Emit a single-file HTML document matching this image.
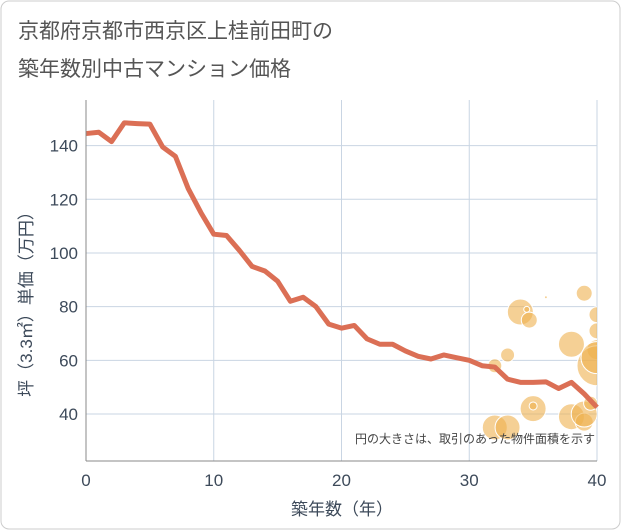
<!DOCTYPE html>
<html><head><meta charset="utf-8"><style>
body{margin:0;background:#fff;font-family:"Liberation Sans","Noto Sans CJK JP",sans-serif}
svg{display:block}
</style></head><body>
<svg id="c" width="621" height="530" xmlns="http://www.w3.org/2000/svg">
<defs><clipPath id="pc"><rect x="86" y="100" width="511" height="361"/></clipPath></defs>
<rect x="1" y="1" width="619" height="528" rx="8" fill="#fff" stroke="#ccc"/>
<text x="18" y="38" font-size="21" fill="#555">京都府京都市西京区上桂前田町の</text>
<text x="18" y="76" font-size="21" fill="#555">築年数別中古マンション価格</text>
<g id="grid"></g>
<g id="bubbles" clip-path="url(#pc)"></g>
<g id="line"></g>
<g id="axes"></g>
<text x="595" y="443" font-size="12" fill="#444" text-anchor="end">円の大きさは、取引のあった物件面積を示す</text>
<text x="342" y="515" font-size="17" fill="#3d4a5a" text-anchor="middle">築年数（年）</text>
<text transform="translate(32,300) rotate(-90)" font-size="17" fill="#3d4a5a" text-anchor="middle">坪（3.3㎡）単価（万円）</text>
</svg>
<script>
const years=[0,1,2,3,4,5,6,7,8,9,10,11,12,13,14,15,16,17,18,19,20,21,22,23,24,25,26,27,28,29,30,31,32,33,34,35,36,37,38,39,40];
const prices=[144.5,145,141.5,148.5,148.2,148,139.5,136,124,115,107,106.5,101,95,93.3,89.5,82,83.5,80,73.5,72,73,68,66,66,63.5,61.5,60.5,62,61,60,58,57.5,53,51.8,51.8,52,49.5,51.8,47.5,42.5];
const bubbleX=[32,33,32,33,34,34.5,34.7,35,35,36,38,38,39,39,39,39.5,40,40,40,40,40];
const bubbleY=[35,35,58,62,78,79,75,42,43,83.5,66,39,85,37,40,44,77,71,64,58,61];
const bubbleR=[12.5,12.5,7,7,13,3,8,13,4,1.5,13,13,8,9,13,7,8,8,10,20,16];
const xTicks=[0,10,20,30,40];
const yTicks=[40,60,80,100,120,140];
const NS="http://www.w3.org/2000/svg";
const X0=86,X1=597,Y0=461,Y1=100,XMIN=0,XMAX=40,YMIN=22.5,YMAX=157;
const sx=v=>X0+(v-XMIN)/(XMAX-XMIN)*(X1-X0);
const sy=v=>Y0-(v-YMIN)/(YMAX-YMIN)*(Y0-Y1);
function mk(t,a,p){const e=document.createElementNS(NS,t);for(const k in a)e.setAttribute(k,a[k]);p.appendChild(e);return e;}
const grid=document.getElementById('grid'),axes=document.getElementById('axes');
xTicks.forEach(t=>{
  const l=mk('line',{x1:sx(t),x2:sx(t),y1:Y1,y2:Y0,stroke:'#c9d5e3','stroke-width':1},grid);
  
  
  const tx=mk('text',{x:sx(t),y:Y0+25,'font-size':17,fill:'#3d4a5a','text-anchor':'middle'},axes);
  tx.textContent=t;
  
  
});
yTicks.forEach(t=>{
  const l=mk('line',{x1:X0,x2:X1,y1:sy(t),y2:sy(t),stroke:'#c9d5e3','stroke-width':1},grid);
  
  
  const tx=mk('text',{x:X0-8,y:sy(t)+6,'font-size':17,fill:'#3d4a5a','text-anchor':'end'},axes);
  tx.textContent=t;
  
  
});
const ax=mk('line',{x1:X0,x2:X0,y1:Y1,y2:Y0,stroke:'#888','stroke-width':1},axes);


const bx=mk('line',{x1:X0,x2:X1,y1:Y0,y2:Y0,stroke:'#888','stroke-width':1},axes);


const bg=document.getElementById('bubbles');
bubbleX.forEach((x,i)=>{
  const c=mk('circle',{cx:sx(x),cy:sy(bubbleY[i]),r:bubbleR[i],fill:'#eeb14f','fill-opacity':0.6,stroke:'#fff','stroke-width':1},bg);
  
  
});
const pts=years.map((y,i)=>sx(y)+','+sy(prices[i])).join(' ');
const pl=mk('polyline',{points:pts,fill:'none',stroke:'#db6f55','stroke-width':5,'stroke-linejoin':'round'},document.getElementById('line'));


</script>
</body></html>
